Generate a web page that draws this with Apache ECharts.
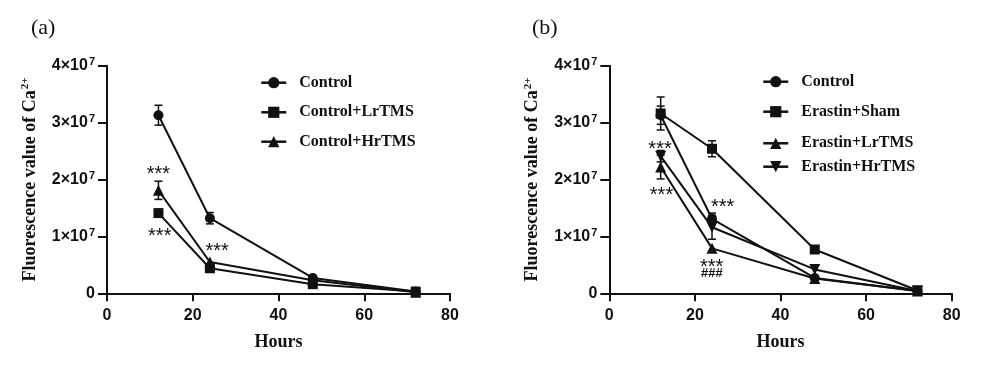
<!DOCTYPE html>
<html>
<head>
<meta charset="utf-8">
<script src="https://cdn.jsdelivr.net/npm/echarts@6/dist/echarts.min.js"></script>
<style>html,body{margin:0;padding:0;background:#fff}#c{width:1004px;height:371px}</style>
</head>
<body>
<div id="c"></div>
<script>
// ---- data ----
const hours = [12, 24, 48, 72];
const xTicks = [0, 20, 40, 60, 80];
const yTicks = [0, 1e7, 2e7, 3e7, 4e7];

// panel (a)
const aNames = ['Control', 'Control+LrTMS', 'Control+HrTMS'];
const aControl = [3.13e7, 1.32e7, 0.27e7, 0.03e7];
const aControlErr = [0.175e7, 0.10e7, 0, 0];
const aLr = [1.41e7, 0.44e7, 0.16e7, 0.03e7];
const aLrErr = [0, 0, 0, 0];
const aHr = [1.81e7, 0.55e7, 0.23e7, 0.02e7];
const aHrErr = [0.16e7, 0, 0, 0];
const aNotes = [[12, 2.18e7, '***'], [12.3, 1.09e7, '***'], [25.7, 0.82e7, '***']];

// panel (b)
const bNames = ['Control', 'Erastin+Sham', 'Erastin+LrTMS', 'Erastin+HrTMS'];
const bControl = [3.13e7, 1.31e7, 0.27e7, 0.04e7];
const bControlErr = [0.16e7, 0.10e7, 0, 0];
const bSham = [3.16e7, 2.54e7, 0.77e7, 0.05e7];
const bShamErr = [0.29e7, 0.14e7, 0, 0];
const bLr = [2.22e7, 0.79e7, 0.26e7, 0.04e7];
const bLrErr = [0.21e7, 0, 0, 0];
const bHr = [2.41e7, 1.16e7, 0.42e7, 0.04e7];
const bHrErr = [0.10e7, 0.21e7, 0, 0];
const bNotes = [[11.85, 2.61e7, '***'], [12.2, 1.81e7, '***'], [26.5, 1.6e7, '***'], [23.9, 0.55e7, '***'], [23.9, 0.35e7, '###']];

// ---- chart ----
const SERIF = '"Liberation Serif","Times New Roman",serif';
const SANS = '"Liberation Sans",Arial,sans-serif';

function pairs(vals) { return hours.map((h, i) => [h, vals[i]]); }
function errPairs(vals, errs) { return hours.map((h, i) => [h, vals[i], errs[i]]); }

function xAxis(gi) {
  return {
    type: 'value', gridIndex: gi, min: 0, max: 80, interval: 20,
    name: 'Hours', nameLocation: 'middle', nameGap: 40,
    nameTextStyle: { fontFamily: SERIF, fontWeight: 'bold', fontSize: 18, color: '#111' },
    axisLine: { onZero: false, lineStyle: { color: '#111', width: 2 } },
    axisTick: { show: true, length: 8, lineStyle: { color: '#111', width: 2 } },
    axisLabel: { margin: 14, fontFamily: SANS, fontWeight: 'bold', fontSize: 16, color: '#111',
      customValues: xTicks },
    splitLine: { show: false }
  };
}
function yAxis(gi) {
  return {
    type: 'value', gridIndex: gi, min: 0, max: 4e7, interval: 1e7,
    name: '{t|Fluorescence value of Ca}{s|2+}', nameLocation: 'middle', nameGap: 66, nameRotate: 90,
    nameTextStyle: {
      rich: {
        t: { fontFamily: SERIF, fontWeight: 'bold', fontSize: 18, color: '#111' },
        s: { fontFamily: SERIF, fontWeight: 'bold', fontSize: 11, color: '#111', padding: [0, 0, 10, 1] }
      }
    },
    axisLine: { show: true, lineStyle: { color: '#111', width: 2 } },
    axisTick: { show: true, length: 9, lineStyle: { color: '#111', width: 2 } },
    axisLabel: {
      margin: 12, color: '#111',
      customValues: yTicks,
      formatter: v => v === 0 ? '{b|0}' : '{b|' + (v / 1e7) + '×10}{s|7}',
      rich: {
        b: { fontFamily: SANS, fontWeight: 'bold', fontSize: 16, color: '#111' },
        s: { fontFamily: SANS, fontWeight: 'bold', fontSize: 11, color: '#111', padding: [0, 0, 7, 1] }
      }
    },
    splitLine: { show: false }
  };
}

function lineSeries(name, vals, symbol, gi, symbolRotate) {
  return {
    type: 'line', name, xAxisIndex: gi, yAxisIndex: gi, data: pairs(vals),
    symbol, symbolSize: symbol === 'circle' ? 10 : (symbol === 'rect' ? 10 : 11),
    symbolRotate: symbolRotate || 0,
    showSymbol: true,
    lineStyle: { color: '#111', width: 2 },
    itemStyle: { color: '#111' },
    z: 3, animation: false
  };
}

function errSeries(vals, errs, gi) {
  return {
    type: 'custom', xAxisIndex: gi, yAxisIndex: gi, data: errPairs(vals, errs), z: 2, animation: false,
    silent: true,
    renderItem: (params, api) => {
      const x = api.value(0), y = api.value(1), e = api.value(2);
      if (!e) return null;
      const top = api.coord([x, y + e]);
      const bot = api.coord([x, y - e]);
      const w = 4;
      const st = { stroke: '#111', lineWidth: 1.5 };
      return {
        type: 'group', children: [
          { type: 'line', shape: { x1: top[0], y1: top[1], x2: bot[0], y2: bot[1] }, style: st },
          { type: 'line', shape: { x1: top[0] - w, y1: top[1], x2: top[0] + w, y2: top[1] }, style: st },
          { type: 'line', shape: { x1: bot[0] - w, y1: bot[1], x2: bot[0] + w, y2: bot[1] }, style: st }
        ]
      };
    }
  };
}

function noteSeries(notes, gi) {
  return {
    type: 'custom', xAxisIndex: gi, yAxisIndex: gi, data: notes, z: 4, animation: false, silent: true,
    encode: { x: 0, y: 1 },
    renderItem: (params, api) => {
      const d = notes[params.dataIndex];
      const p = api.coord([d[0], d[1]]);
      const isHash = d[2] === '###';
      return {
        type: 'text', x: p[0], y: p[1] + (isHash ? 0 : 5),
        style: {
          text: d[2],
          font: isHash ? 'italic bold 13px ' + SANS : '20px ' + SANS,
          fill: '#111', align: 'center', verticalAlign: 'middle'
        }
      };
    }
  };
}

function legendItem(name, left, centerY) {
  return {
    data: [name], left, top: centerY - 8, orient: 'vertical', padding: 0,
    itemWidth: 25, itemHeight: 14, selectedMode: false,
    lineStyle: { width: 2.5 },
    textStyle: { fontFamily: SERIF, fontWeight: 'bold', fontSize: 16, color: '#111', lineHeight: 16, padding: [0, 0, 0, 8] }
  };
}

const option = {
  animation: false,
  backgroundColor: '#fff',
  title: [
    { text: '(a)', left: 26, top: 12, textStyle: { fontFamily: SERIF, fontWeight: 'normal', fontSize: 22, color: '#111' } },
    { text: '(b)', left: 527, top: 12, textStyle: { fontFamily: SERIF, fontWeight: 'normal', fontSize: 22, color: '#111' } }
  ],
  grid: [
    { left: 107, top: 65.7, width: 343, height: 227.6 },
    { left: 609.3, top: 65.7, width: 342.4, height: 227.6 }
  ],
  xAxis: [xAxis(0), xAxis(1)],
  yAxis: [yAxis(0), yAxis(1)],
  legend: [
    legendItem(aNames[0], 260, 82.7),
    legendItem(aNames[1], 260, 112.3),
    legendItem(aNames[2], 260, 141.7),
    legendItem(bNames[0], 762, 81.7),
    legendItem(bNames[1], 762, 111.7),
    legendItem(bNames[2], 762, 143.3),
    legendItem(bNames[3], 762, 166.7)
  ],
  series: [
    errSeries(aControl, aControlErr, 0),
    errSeries(aLr, aLrErr, 0),
    errSeries(aHr, aHrErr, 0),
    lineSeries(aNames[0], aControl, 'circle', 0),
    lineSeries(aNames[1], aLr, 'rect', 0),
    lineSeries(aNames[2], aHr, 'triangle', 0),
    noteSeries(aNotes, 0),
    errSeries(bControl, bControlErr, 1),
    errSeries(bSham, bShamErr, 1),
    errSeries(bLr, bLrErr, 1),
    errSeries(bHr, bHrErr, 1),
    lineSeries(bNames[0], bControl, 'circle', 1),
    lineSeries(bNames[1], bSham, 'rect', 1),
    lineSeries(bNames[2], bLr, 'triangle', 1),
    lineSeries(bNames[3], bHr, 'triangle', 1, 180),
    noteSeries(bNotes, 1)
  ]
};

const chart = echarts.init(document.getElementById('c'), null, { renderer: 'canvas' });
chart.setOption(option);
</script>
</body>
</html>
